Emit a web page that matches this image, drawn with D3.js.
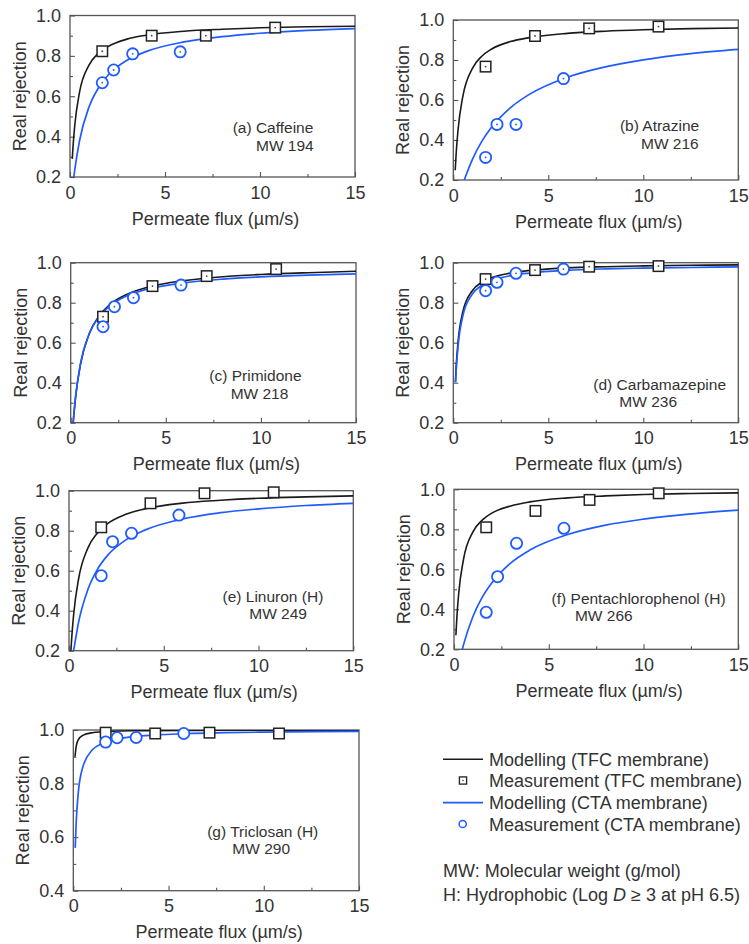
<!DOCTYPE html>
<html>
<head>
<meta charset="utf-8">
<script src="https://cdn.jsdelivr.net/npm/d3@7"></script>
<style>
  html, body { margin: 0; padding: 0; background: #fff; }
  svg { display: block; font-family: "Liberation Sans", Arial, Helvetica, sans-serif; }
</style>
</head>
<body>
<svg id="chart" width="749" height="944"></svg>
<script>
// ---- data ---------------------------------------------------------------
const panelIds = ["a", "b", "c", "d", "e", "f", "g"];
const compoundLabels = [
  "(a) Caffeine", "(b) Atrazine", "(c) Primidone", "(d) Carbamazepine",
  "(e) Linuron (H)", "(f) Pentachlorophenol (H)", "(g) Triclosan (H)"
];
const mwLabels = ["MW 194", "MW 216", "MW 218", "MW 236", "MW 249", "MW 266", "MW 290"];

// permeate flux (µm/s) of the measured points
const fluxTFC = [1.7, 4.3, 7.15, 10.8];
const fluxCTA = [1.7, 2.3, 3.3, 5.8];

// measured real rejection, one row per compound
const measuredTFC = [
  [0.823, 0.90, 0.90, 0.94],
  [0.767, 0.92, 0.958, 0.967],
  [0.73, 0.883, 0.933, 0.968],
  [0.918, 0.963, 0.98, 0.983],
  [0.817, 0.937, 0.987, 0.992],
  [0.81, 0.892, 0.947, 0.98],
  [0.99, 0.987, 0.99, 0.987]
];
const measuredCTA = [
  [0.667, 0.73, 0.81, 0.82],
  [0.313, 0.478, 0.478, 0.707],
  [0.68, 0.78, 0.825, 0.888],
  [0.86, 0.902, 0.947, 0.968],
  [0.575, 0.745, 0.787, 0.878],
  [0.385, 0.563, 0.73, 0.805],
  [0.955, 0.971, 0.972, 0.987]
];

// modelled rejection curves: first point of each curve, then values on a flux grid
const modelFlux = [0.15, 0.25, 0.5, 1, 1.5, 2, 3, 4, 6, 8, 10, 12.5, 15];
const modelStartTFC = [[0.12, 0.29], [0.1, 0.249], [0.13, 0.2], [0.11, 0.403], [0.1, 0.2], [0.1, 0.27], [0.09, 0.9]];
const modelTFC = [
  [0.337, 0.455, 0.619, 0.754, 0.813, 0.846, 0.883, 0.902, 0.922, 0.932, 0.939, 0.944, 0.947],
  [0.331, 0.451, 0.617, 0.757, 0.819, 0.854, 0.892, 0.912, 0.933, 0.944, 0.951, 0.957, 0.960],
  [0.222, 0.321, 0.485, 0.651, 0.735, 0.786, 0.844, 0.876, 0.911, 0.930, 0.941, 0.950, 0.957],
  [0.479, 0.605, 0.754, 0.860, 0.902, 0.925, 0.948, 0.961, 0.974, 0.980, 0.984, 0.987, 0.989],
  [0.273, 0.385, 0.556, 0.714, 0.789, 0.833, 0.882, 0.909, 0.938, 0.952, 0.962, 0.969, 0.974],
  [0.357, 0.481, 0.649, 0.787, 0.847, 0.881, 0.917, 0.937, 0.957, 0.967, 0.974, 0.979, 0.982],
  [0.938, 0.962, 0.980, 0.990, 0.993, 0.995, 0.997, 0.9975, 0.998, 0.999, 0.999, 0.999, 0.999]
];
const modelStartCTA = [[0.2, 0.2], [0.575, 0.2], [0.13, 0.2], [0.12, 0.402], [0.24, 0.2], [0.44, 0.2], [0.1, 0.56]];
const modelCTA = [
  [null, 0.235, 0.379, 0.547, 0.642, 0.704, 0.778, 0.821, 0.869, 0.895, 0.912, 0.926, 0.935],
  [null, null, null, 0.302, 0.393, 0.462, 0.561, 0.628, 0.714, 0.766, 0.801, 0.832, 0.853],
  [0.225, 0.325, 0.488, 0.650, 0.731, 0.780, 0.836, 0.867, 0.900, 0.918, 0.929, 0.938, 0.944],
  [0.457, 0.582, 0.733, 0.843, 0.887, 0.910, 0.935, 0.948, 0.962, 0.969, 0.973, 0.976, 0.979],
  [null, 0.205, 0.340, 0.507, 0.607, 0.673, 0.754, 0.803, 0.859, 0.890, 0.909, 0.926, 0.937],
  [null, null, 0.222, 0.364, 0.462, 0.533, 0.632, 0.696, 0.774, 0.821, 0.851, 0.877, 0.896],
  [0.652, 0.758, 0.862, 0.926, 0.949, 0.962, 0.974, 0.980, 0.987, 0.990, 0.992, 0.994, 0.995]
];

// axes
const xDomain = [0, 15];
const xTicks = [0, 5, 10, 15];
const xMinorTicks = [2.5, 7.5, 12.5];
const yDomains = [[0.2, 1], [0.2, 1], [0.2, 1], [0.2, 1], [0.2, 1], [0.2, 1], [0.4, 1]];
const xTitle = "Permeate flux (\u00B5m/s)";
const yTitle = "Real rejection";

// legend
const legendLabels = [
  "Modelling (TFC membrane)", "Measurement (TFC membrane)",
  "Modelling (CTA membrane)", "Measurement (CTA membrane)"
];

// ---- layout / style ------------------------------------------------------
const frames = [
  { l: 70,    r: 355,   t: 15.5,  b: 177 },
  { l: 453.3, r: 738.3, t: 20,    b: 180 },
  { l: 70.7,  r: 356,   t: 262.7, b: 422.7 },
  { l: 453.3, r: 738.3, t: 262.7, b: 422.7 },
  { l: 69,    r: 353.3, t: 490.7, b: 650.7 },
  { l: 454,   r: 738.3, t: 489.3, b: 649.3 },
  { l: 73.3,  r: 359,   t: 730,   b: 890.7 }
];
// label anchor (flux, rejection) for compound name and MW lines
const labelPos = [
  [[8.56, 0.42], [9.79, 0.329]],
  [[8.77, 0.443], [9.88, 0.353]],
  [[7.29, 0.409], [8.41, 0.32]],
  [[7.37, 0.366], [8.74, 0.2785]],
  [[8.1, 0.446], [9.51, 0.36]],
  [[5.15, 0.428], [6.38, 0.3415]],
  [[7.03, 0.60], [8.35, 0.538]]
];
const centreDots = [true, true, true, true, false, false, false];

const BLACK = "#1a1a1a";
const BLUE = "#1f5bff";
const FRAME = "#555";
const TEXT = "#333";

const svg = d3.select("#chart");

frames.forEach((f, i) => {
  const x = d3.scaleLinear().domain(xDomain).range([f.l, f.r]);
  const yd = yDomains[i];
  const y = d3.scaleLinear().domain(yd).range([f.b, f.t]);
  const g = svg.append("g").attr("class", "panel-" + panelIds[i]);

  const clipId = "clip-" + panelIds[i];
  svg.append("clipPath").attr("id", clipId)
    .append("rect").attr("x", f.l).attr("y", f.t).attr("width", f.r - f.l).attr("height", f.b - f.t);

  // y major + minor ticks (inward)
  const yMajor = d3.range(yd[0], yd[1] + 1e-9, 0.2).map(v => +v.toFixed(2));
  const yMinor = d3.range(yd[0] + 0.1, yd[1], 0.2).map(v => +v.toFixed(2));

  const xAxis = d3.axisBottom(x).tickValues(xTicks).tickSize(-5).tickPadding(9).tickFormat(d3.format("d"));
  const xAxisMinor = d3.axisBottom(x).tickValues(xMinorTicks).tickSize(-3).tickFormat("");
  const yAxis = d3.axisLeft(y).tickValues(yMajor).tickSize(-5).tickPadding(9).tickFormat(d3.format(".1f"));
  const yAxisMinor = d3.axisLeft(y).tickValues(yMinor).tickSize(-3).tickFormat("");

  const styleAxis = sel => {
    sel.select(".domain").remove();
    sel.selectAll("line").attr("stroke", FRAME).attr("stroke-width", 1.1);
    sel.selectAll("text").attr("fill", TEXT).attr("font-size", 18)
      .attr("font-family", "'Liberation Sans', Arial, sans-serif");
  };
  g.append("g").attr("transform", `translate(0,${f.b})`).call(xAxis).call(styleAxis);
  g.append("g").attr("transform", `translate(0,${f.b})`).call(xAxisMinor).call(styleAxis);
  g.append("g").attr("transform", `translate(${f.l},0)`).call(yAxis).call(styleAxis);
  g.append("g").attr("transform", `translate(${f.l},0)`).call(yAxisMinor).call(styleAxis);

  // frame
  g.append("rect").attr("x", f.l).attr("y", f.t).attr("width", f.r - f.l).attr("height", f.b - f.t)
    .attr("fill", "none").attr("stroke", FRAME).attr("stroke-width", 1.3);

  // axis titles
  g.append("text").attr("x", (f.l + f.r) / 2 + 3).attr("y", f.b + 47.5)
    .attr("text-anchor", "middle").attr("font-size", 18).attr("fill", TEXT).text(xTitle);
  g.append("text")
    .attr("transform", `translate(${f.l - 44},${(f.t + f.b) / 2}) rotate(-90)`)
    .attr("text-anchor", "middle").attr("font-size", 18).attr("fill", TEXT).text(yTitle);

  // model curves
  const line = d3.line().x(d => x(d[0])).y(d => y(d[1])).curve(d3.curveMonotoneX);
  const curvePts = (start, vals) => [start].concat(
    modelFlux.map((fx, j) => [fx, vals[j]]).filter(d => d[1] !== null && d[0] > start[0]));

  const curves = g.append("g").attr("clip-path", `url(#${clipId})`);
  curves.append("path").datum(curvePts(modelStartTFC[i], modelTFC[i]))
    .attr("d", line).attr("fill", "none").attr("stroke", BLACK).attr("stroke-width", 1.6);
  curves.append("path").datum(curvePts(modelStartCTA[i], modelCTA[i]))
    .attr("d", line).attr("fill", "none").attr("stroke", BLUE).attr("stroke-width", 1.7);

  // measurements: TFC squares
  const sq = 10.5;
  const tfc = fluxTFC.map((fx, j) => [fx, measuredTFC[i][j]]);
  g.selectAll(".sq").data(tfc).enter().append("rect")
    .attr("x", d => x(d[0]) - sq / 2).attr("y", d => y(d[1]) - sq / 2)
    .attr("width", sq).attr("height", sq)
    .attr("fill", "#fff").attr("stroke", "#222").attr("stroke-width", 1.5);
  // CTA circles
  const cta = fluxCTA.map((fx, j) => [fx, measuredCTA[i][j]]);
  g.selectAll(".ci").data(cta).enter().append("circle")
    .attr("cx", d => x(d[0])).attr("cy", d => y(d[1])).attr("r", 5.6)
    .attr("fill", "#fff").attr("stroke", BLUE).attr("stroke-width", 1.8);
  if (centreDots[i]) {
    g.selectAll(".sqd").data(tfc).enter().append("circle")
      .attr("cx", d => x(d[0])).attr("cy", d => y(d[1])).attr("r", 0.9).attr("fill", "#444");
    g.selectAll(".cid").data(cta).enter().append("circle")
      .attr("cx", d => x(d[0])).attr("cy", d => y(d[1])).attr("r", 0.9).attr("fill", BLUE);
  }

  // compound name + molecular weight
  const lp = labelPos[i];
  g.append("text").attr("x", x(lp[0][0])).attr("y", y(lp[0][1]))
    .attr("font-size", 15.5).attr("fill", TEXT).text(compoundLabels[i]);
  g.append("text").attr("x", x(lp[1][0])).attr("y", y(lp[1][1]))
    .attr("font-size", 15.5).attr("fill", TEXT).text(mwLabels[i]);
});

// ---- legend ----------------------------------------------------------------
const lg = svg.append("g").attr("class", "legend");
const rowY = [759.3, 780.5, 802.7, 824];
const lx0 = 443, lx1 = 483, tx = 489;
lg.append("line").attr("x1", lx0).attr("x2", lx1).attr("y1", rowY[0]).attr("y2", rowY[0])
  .attr("stroke", BLACK).attr("stroke-width", 1.6);
lg.append("rect").attr("x", 463 - 3.6).attr("y", rowY[1] - 3.6).attr("width", 7.2).attr("height", 7.2)
  .attr("fill", "#fff").attr("stroke", "#222").attr("stroke-width", 1.3);
lg.append("circle").attr("cx", 463).attr("cy", rowY[1]).attr("r", 0.8).attr("fill", "#444");
lg.append("line").attr("x1", lx0).attr("x2", lx1).attr("y1", rowY[2]).attr("y2", rowY[2])
  .attr("stroke", BLUE).attr("stroke-width", 1.7);
lg.append("circle").attr("cx", 462.7).attr("cy", rowY[3]).attr("r", 3.6)
  .attr("fill", "#fff").attr("stroke", BLUE).attr("stroke-width", 1.5);
legendLabels.forEach((t, k) => {
  lg.append("text").attr("x", tx).attr("y", rowY[k] + 6.5)
    .attr("font-size", 18).attr("fill", TEXT).text(t);
});
lg.append("text").attr("x", 443).attr("y", 877).attr("font-size", 18).attr("fill", TEXT)
  .text("MW: Molecular weight (g/mol)");
const hLine = lg.append("text").attr("x", 443).attr("y", 901).attr("font-size", 18).attr("fill", TEXT);
hLine.append("tspan").text("H: Hydrophobic (Log ");
hLine.append("tspan").attr("font-style", "italic").text("D");
hLine.append("tspan").text(" \u2265 3 at pH 6.5)");
</script>
</body>
</html>
